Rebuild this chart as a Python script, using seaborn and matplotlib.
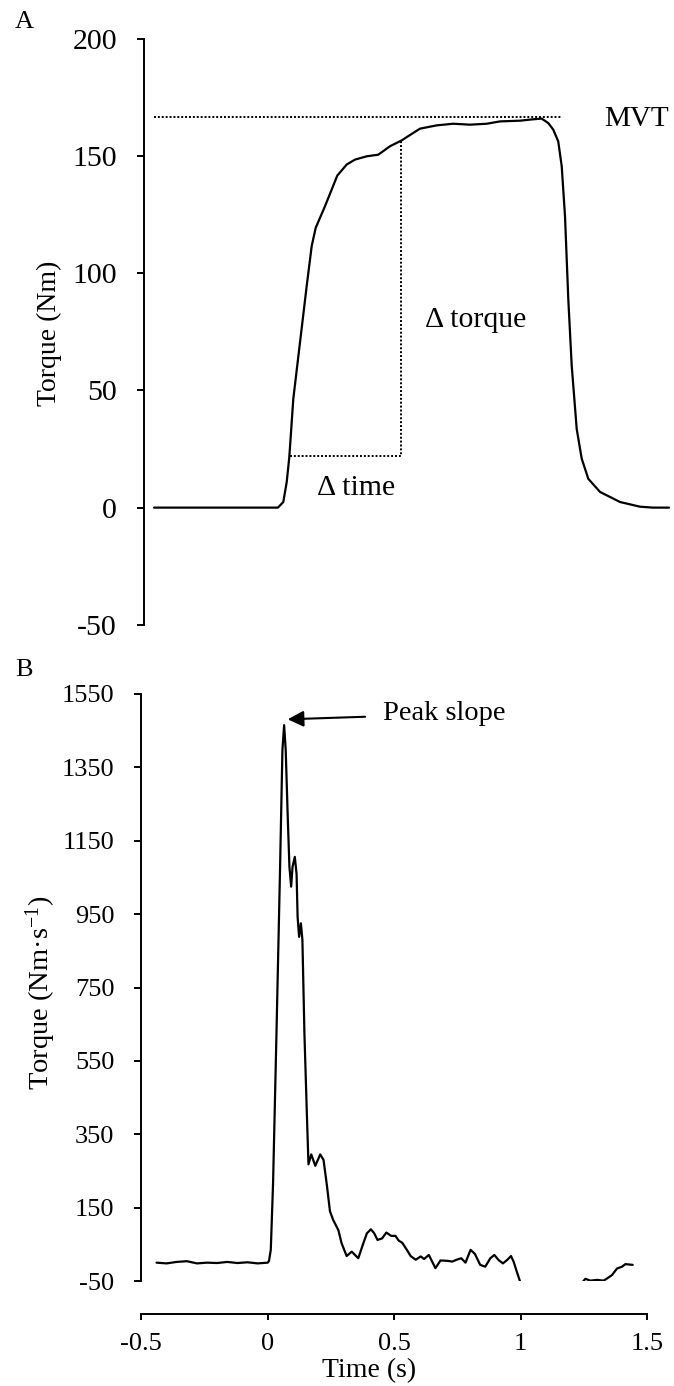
"""Torque trace (A) and its first derivative (B) for one MVC trial."""
import matplotlib
matplotlib.use("Agg")
import matplotlib.pyplot as plt
import pandas as pd
import seaborn as sns

# ---- panel A: torque (Nm) against time (s) ----
torque_time = [-0.451, -0.35, -0.25, -0.15, -0.05, -0.004, 0.0155, 0.0278, 0.0372,
               0.0516, 0.0758, 0.100, 0.118, 0.1325, 0.166, 0.2105, 0.2444, 0.2744,
               0.3166, 0.3585, 0.4007, 0.443, 0.4848, 0.509, 0.569, 0.629, 0.6895,
               0.75, 0.798, 0.870, 0.918, 0.948, 0.972, 0.990, 1.008, 1.0206, 1.0325,
               1.0444, 1.0567, 1.0747, 1.0928, 1.1166, 1.1588, 1.231, 1.303, 1.35, 1.408]
torque_nm = [0, 0, 0, 0, 0, 0, 2.4, 10.9, 21.6,
             46.4, 70.5, 94.6, 111.6, 119.4, 128.6, 141.7, 146.4, 148.5,
             149.9, 150.6, 154.2, 156.7, 159.9, 161.7, 163.1, 163.8, 163.4,
             163.8, 164.8, 165.1, 165.7, 166.0, 164.1, 161.3, 156.3, 145.7, 124.4,
             88.9, 60.6, 33.6, 20.9, 12.3, 6.7, 2.4, 0.4, 0, 0]
torque_ticks = [-50, 0, 50, 100, 150, 200]

mvt = 166.6
mvt_span = (-0.451, 1.022)
delta_t = (0.04, 0.442)        # start / end of the delta-time window
delta_torque = (22.0, 156.5)   # torque at those two instants

# ---- panel B: torque slope (Nm/s) against time (s) ----
slope_time = [-0.44, -0.40, -0.36, -0.32, -0.28, -0.24, -0.20, -0.16, -0.12, -0.08,
              -0.04, 0.0, 0.005, 0.012, 0.021, 0.0345, 0.0488, 0.058, 0.0647, 0.071,
              0.079, 0.0857, 0.0925, 0.098, 0.107, 0.114, 0.118, 0.124, 0.131, 0.137,
              0.145, 0.155, 0.161, 0.172, 0.188, 0.2075, 0.2206, 0.234, 0.246, 0.259,
              0.279, 0.292, 0.312, 0.332, 0.358, 0.378, 0.392, 0.408, 0.421, 0.434,
              0.452, 0.469, 0.488, 0.505, 0.518, 0.532, 0.549, 0.565, 0.585, 0.605,
              0.618, 0.637, 0.65, 0.663, 0.683, 0.71, 0.73, 0.747, 0.765, 0.782,
              0.802, 0.819, 0.84, 0.86, 0.88, 0.896, 0.913, 0.93, 0.946, 0.962,
              0.972, 0.985, 0.998]
slope_nms = [0, -2, 2, 4, -2, 0, -1, 2, -1, 1,
             -2, 0, 5, 35, 216, 625, 1079, 1397, 1465, 1397,
             1216, 1079, 1025, 1079, 1106, 1059, 943, 888, 925, 880,
             625, 398, 268, 295, 264, 295, 280, 210, 140, 116,
             89, 53, 18, 30, 12, 53, 80, 91, 80, 62,
             66, 82, 73, 73, 60, 54, 36, 18, 8, 17,
             10, 21, 3, -15, 6, 5, 3, 8, 12, 0,
             35, 24, -6, -11, 12, 21, 7, -2, 7, 18,
             3, -25, -52]
# relaxation tail after the off-scale negative slope
tail_time = [1.246, 1.256, 1.275, 1.302, 1.328, 1.342, 1.361, 1.381, 1.401, 1.414, 1.443]
tail_nms = [-52, -44, -49, -47, -49, -43, -34, -16, -11, -4, -6]
slope_ticks = [-50, 150, 350, 550, 750, 950, 1150, 1350, 1550]
time_ticks = [-0.5, 0, 0.5, 1, 1.5]
time_labels = ["-0.5", "0", "0.5", "1", "1.5"]

peak_tip = (0.079, 1481)
peak_tail = (0.385, 1488)

sns.set_theme(style="ticks")
plt.rcParams["font.family"] = ["Liberation Serif", "DejaVu Serif"]
plt.rcParams["mathtext.fontset"] = "custom"
plt.rcParams["mathtext.rm"] = "Liberation Serif"
plt.rcParams["mathtext.it"] = "Liberation Serif:italic"
plt.rcParams["axes.unicode_minus"] = False
plt.rcParams["lines.solid_joinstyle"] = "round"
for key in ["text.color", "axes.labelcolor", "axes.edgecolor", "xtick.color", "ytick.color"]:
    plt.rcParams[key] = "black"

W, H = 674, 1386
LW = 1.6
DOT = (0, (1, 1))


def px_box(left, right, top, bottom):
    return [left / W, 1 - bottom / H, (right - left) / W, (bottom - top) / H]


fig = plt.figure(figsize=(W / 100, H / 100), dpi=100)
axA = fig.add_axes(px_box(144, 674, 38.9, 624.8))
axB = fig.add_axes(px_box(141.3, 647.1, 694, 1281))

# ---- A ----
dfA = pd.DataFrame({"time": torque_time, "torque": torque_nm})
sns.lineplot(data=dfA, x="time", y="torque", color="black", lw=LW,
             estimator=None, sort=False, ax=axA)
axA.hlines(mvt, *mvt_span, colors="black", linestyles=DOT, lw=1.4)
axA.plot([delta_t[0], delta_t[1], delta_t[1]],
         [delta_torque[0], delta_torque[0], delta_torque[1]],
         color="black", ls=DOT, lw=1.4)
axA.text(1.173, 165.7, "MVT", fontsize=21, va="center", ha="left")
axA.text(0.527, 80.1, "Δ torque", fontsize=21.5, va="center", ha="left")
axA.text(0.136, 8.2, "Δ time", fontsize=21.5, va="center", ha="left")

axA.set_xlim(-0.4874, 1.426)
axA.set_ylim(-50, 200)
axA.set_xticks([])
axA.set_yticks(torque_ticks)
axA.set_xlabel("")
axA.set_ylabel("Torque (Nm)", fontsize=20, va="center")
axA.yaxis.set_label_coords(-0.178, 0.497)
sns.despine(ax=axA, bottom=True)
axA.tick_params(axis="y", labelsize=21.5, length=5.4, width=1.4, pad=14)
axA.spines["left"].set_linewidth(1.4)

# ---- B ----
dfB = pd.DataFrame({
    "time": slope_time + tail_time,
    "slope": slope_nms + tail_nms,
    "seg": ["rise"] * len(slope_time) + ["tail"] * len(tail_time),
})
sns.lineplot(data=dfB, x="time", y="slope", units="seg", color="black", lw=LW,
             estimator=None, sort=False, ax=axB)
axB.annotate("", xy=peak_tip, xytext=peak_tail,
             arrowprops=dict(arrowstyle="-|>", color="black", lw=1.5,
                             mutation_scale=24, shrinkA=0, shrinkB=0))
axB.text(0.455, 1498, "Peak slope", fontsize=20.5, va="center", ha="left")

axB.set_xlim(-0.5, 1.5)
axB.set_ylim(-50, 1550)
axB.set_xticks(time_ticks, labels=time_labels)
axB.set_yticks(slope_ticks)
axB.set_xlabel("Time (s)", fontsize=20, va="center")
axB.xaxis.set_label_coords(0.45, -0.1526)
axB.set_ylabel("Torque (Nm·s$^{-1}$)", fontsize=20.5, va="center")
axB.yaxis.set_label_coords(-0.199, 0.4915)
sns.despine(ax=axB, offset={"bottom": 24, "left": 0})
axB.tick_params(axis="y", labelsize=19, length=5.4, width=1.4, pad=14)
axB.tick_params(axis="x", labelsize=19, length=4.2, width=1.4, pad=9)
for side in ["left", "bottom"]:
    axB.spines[side].set_linewidth(1.4)

fig.text(15 / W, 1 - 28 / H, "A", fontsize=19, va="baseline", ha="left")
fig.text(15 / W, 1 - 676 / H, "B", fontsize=19, va="baseline", ha="left")

fig.savefig("out.png", dpi=100)
